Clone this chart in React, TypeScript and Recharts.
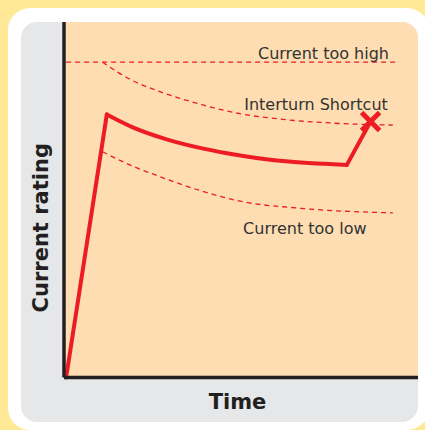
import React from "react";
import {
  LineChart,
  Line,
  XAxis,
  YAxis,
  ReferenceLine,
  ReferenceDot,
} from "recharts";

// Normal current curve (time in % of axis, current in % of axis)
const riseTime = [0.6, 12.1];
const riseCurrent = [0, 74.0];
const decayTime = [12.1, 19.6, 29.0, 38.4, 46.0, 54.9, 64.3, 73.7, 79.9];
const decayCurrent = [74.0, 70.3, 67.0, 64.6, 63.1, 61.7, 60.7, 60.1, 59.8];
const spikeTime = [79.9, 86.6];
const spikeCurrent = [59.8, 72.0];

// Limits
const highLimit = 88.7;
const highLimitFrom = 0.6;
const highLimitTo = 94.6;
const shortcutTime = [10.9, 18.6, 27.1, 38.4, 49.7, 61.0, 75.1, 92.9];
const shortcutLimit = [88.7, 83.9, 80.4, 76.9, 74.2, 72.7, 71.6, 71.0];
const lowTime = [10.9, 18.6, 27.1, 38.4, 49.7, 66.7, 92.9];
const lowLimit = [63.5, 59.8, 56.5, 52.6, 49.6, 47.6, 46.3];

// Text annotations (left edge / baseline in axis units)
const noteText = ["Current too high", "Interturn Shortcut", "Current too low"];
const noteTime = [54.8, 50.9, 50.6];
const noteCurrent = [89.6, 75.3, 40.3];

const RED = "#ED1C24";
const INK = "#231F20";
const TEXT = "#333333";
const YELLOW = "#FFE996";
const PEACH = "#FDDDB1";
const GRAY = "#E6E7E8";
const FONT = "'DejaVu Sans', Arial, sans-serif";

const toPoints = (ts: number[], cs: number[]) =>
  ts.map((t, i) => ({ t, c: cs[i] }));

const rise = toPoints(riseTime, riseCurrent);
const decay = toPoints(decayTime, decayCurrent);
const spike = toPoints(spikeTime, spikeCurrent);
const shortcut = toPoints(shortcutTime, shortcutLimit);
const low = toPoints(lowTime, lowLimit);

const noteLabel = (text: string) => (props: any) => {
  const vb = props.viewBox ?? props;
  return (
    <text x={vb.x} y={vb.y} fontFamily={FONT} fontSize={16} fill={TEXT}>
      {text}
    </text>
  );
};

const timeTitle = (props: any) => {
  const vb = props.viewBox ?? props;
  return (
    <text
      x={vb.x + vb.width / 2 - 3.5}
      y={vb.y + 31.5}
      textAnchor="middle"
      fontFamily={FONT}
      fontSize={21}
      fontWeight="bold"
      fill={INK}
    >
      Time
    </text>
  );
};

const ratingTitle = (props: any) => {
  const vb = props.viewBox ?? props;
  const x = vb.x + 27;
  const y = vb.y + vb.height / 2 + 28;
  return (
    <text
      x={x}
      y={y}
      transform={`rotate(-90, ${x}, ${y})`}
      textAnchor="middle"
      fontFamily={FONT}
      fontSize={21}
      fontWeight="bold"
      fill={INK}
    >
      Current rating
    </text>
  );
};

// the "X" where the shortcut happens
const FailMark = (props: any) => {
  const { cx, cy } = props;
  const s = 9;
  return (
    <g stroke={RED} strokeWidth={5} strokeLinecap="butt">
      <line x1={cx - s} y1={cy - s} x2={cx + s} y2={cy + s} />
      <line x1={cx + s} y1={cy - s} x2={cx - s} y2={cy + s} />
    </g>
  );
};

export default function App() {
  return (
    <div
      style={{
        position: "absolute",
        left: 0,
        top: 0,
        width: 425,
        height: 430,
        background: YELLOW,
        overflow: "hidden",
      }}
    >
      <div
        style={{
          position: "absolute",
          left: 8,
          top: 8,
          width: 421,
          height: 422,
          borderRadius: 22,
          background: "#ffffff",
        }}
      />
      <div
        style={{
          position: "absolute",
          left: 21,
          top: 22,
          width: 397,
          height: 400,
          borderRadius: 16,
          background: GRAY,
          overflow: "hidden",
        }}
      >
        <div
          style={{
            position: "absolute",
            left: 43,
            top: 0,
            right: 0,
            height: 355.5,
            background: PEACH,
          }}
        />
      </div>
      <div style={{ position: "absolute", left: 0, top: 0 }}>
        <LineChart
          width={425}
          height={430}
          margin={{ top: 22, right: 7, bottom: 8.5, left: 21 }}
        >
          <XAxis
            dataKey="t"
            type="number"
            domain={[0, 100]}
            height={44}
            tick={false}
            tickLine={false}
            axisLine={{ stroke: INK, strokeWidth: 3.5 }}
            label={timeTitle}
          />
          <YAxis
            type="number"
            domain={[0, 100]}
            width={43}
            tick={false}
            tickLine={false}
            axisLine={{ stroke: INK, strokeWidth: 3.5 }}
            label={ratingTitle}
          />

          {/* thresholds */}
          <ReferenceLine
            segment={[
              { x: highLimitFrom, y: highLimit },
              { x: highLimitTo, y: highLimit },
            ]}
            stroke={RED}
            strokeWidth={1.3}
            strokeDasharray="5 4"
          />
          <Line
            data={shortcut}
            dataKey="c"
            type="monotone"
            stroke={RED}
            strokeWidth={1.3}
            strokeDasharray="5 4"
            dot={false}
            isAnimationActive={false}
          />
          <Line
            data={low}
            dataKey="c"
            type="monotone"
            stroke={RED}
            strokeWidth={1.3}
            strokeDasharray="5 4"
            dot={false}
            isAnimationActive={false}
          />

          {/* measured current */}
          <Line
            data={rise}
            dataKey="c"
            type="linear"
            stroke={RED}
            strokeWidth={4}
            strokeLinecap="round"
            dot={false}
            isAnimationActive={false}
          />
          <Line
            data={decay}
            dataKey="c"
            type="monotone"
            stroke={RED}
            strokeWidth={4}
            strokeLinecap="round"
            dot={false}
            isAnimationActive={false}
          />
          <Line
            data={spike}
            dataKey="c"
            type="linear"
            stroke={RED}
            strokeWidth={4}
            strokeLinecap="round"
            dot={false}
            isAnimationActive={false}
          />

          <ReferenceDot
            x={spikeTime[spikeTime.length - 1]}
            y={spikeCurrent[spikeCurrent.length - 1]}
            r={0}
            shape={FailMark}
          />

          {noteText.map((text, i) => (
            <ReferenceDot
              key={text}
              x={noteTime[i]}
              y={noteCurrent[i]}
              r={0}
              fill="none"
              stroke="none"
              label={noteLabel(text)}
            />
          ))}
        </LineChart>
      </div>
    </div>
  );
}
